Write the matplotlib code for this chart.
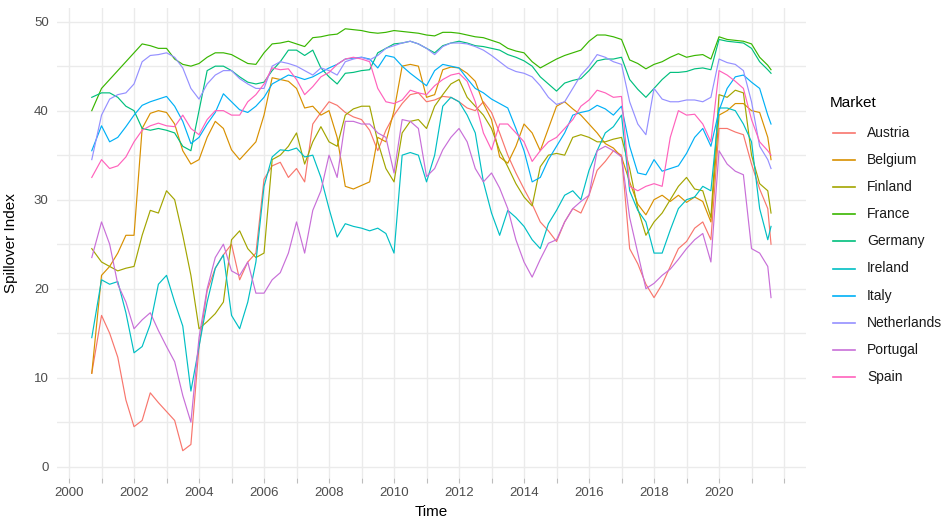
import numpy as np
import matplotlib
matplotlib.use('Agg')
import matplotlib.pyplot as plt
from matplotlib.lines import Line2D

plt.rcParams['font.family'] = ['Liberation Sans', 'DejaVu Sans']

# Time axis: start of sample, quarterly points, end of sample
time = [2000.7] + list(np.arange(2001.0, 2021.51, 0.25)) + [2021.6]

markets = ['Austria', 'Belgium', 'Finland', 'France', 'Germany',
           'Ireland', 'Italy', 'Netherlands', 'Portugal', 'Spain']
colors = ['#F8766D', '#D89000', '#A3A500', '#39B600', '#00BF7D',
          '#00BFC4', '#00B0F6', '#9590FF', '#C86FD8', '#FF62BC']

# values (one row per year: Q1..Q4)
austria = [10.5,
           17, 15, 12.3, 7.5,
           4.5, 5.2, 8.3, 7.2,
           6.2, 5.2, 1.8, 2.5,
           13.5, 19.8, 22.3, 23.8,
           25, 21, 23, 24,
           32.3, 33.8, 34.2, 32.5,
           33.5, 32, 38.5, 39.8,
           41, 40.6, 39.8, 39.3,
           39, 37.8, 35.5, 37.8,
           39.5, 40.8, 41.8, 42,
           41, 41.2, 41.6, 41.5,
           41, 40.3, 40, 41,
           39.8, 37.5, 35, 33,
           31.2, 29.5, 27.5, 26.5,
           25.3, 27.5, 29, 28.5,
           30.5, 33.3, 34.3, 35.5,
           35, 24.5, 22.8, 20.5,
           19, 20.5, 22.5, 24.5,
           25.3, 26.8, 27.5, 25.5,
           38, 38, 37.6, 37.3,
           34, 31.2, 29,
           25]
belgium = [10.5,
           21.5, 22.5, 24, 26,
           26, 38, 39.7, 40,
           39.8, 38.5, 35.5, 34,
           34.5, 37, 38.8, 38,
           35.6, 34.5, 35.5, 36.5,
           39.5, 43.7, 43.5, 43.3,
           42.5, 40.3, 40.5, 39.5,
           40, 37, 31.5, 31.2,
           31.6, 32, 37, 36.5,
           40, 45, 45.2, 45,
           41.5, 41.8, 44.6, 44.9,
           44.8, 44.2, 43.3, 40.8,
           39, 34.8, 34.1, 36,
           38.5, 37.5, 35.5, 38,
           40.5, 41, 40.2, 39.5,
           38.5, 37.5, 36.3, 35.8,
           34.8, 32, 29.5, 28.3,
           30, 30.5, 29.8, 30.5,
           29.7, 30.3, 29.8, 27.5,
           39.5, 40, 40.8, 40.8,
           40, 39.8, 37,
           34.5]
finland = [24.5,
           23, 22.5, 22, 22.3,
           22.5, 26, 28.8, 28.5,
           31, 30, 26, 21.5,
           15.5, 16.3, 17.2, 18.5,
           25.5, 26.5, 24.5, 23.5,
           24, 34.5, 35, 36,
           37.5, 34, 36.5, 38.2,
           36.5, 36, 39.5, 40.2,
           40.5, 40.5, 36.5, 33.5,
           32, 37.5, 38.8, 39,
           38, 40.5, 41.8, 43,
           43.5, 41.5, 40.5, 39.5,
           38, 35.5, 33.7, 31.8,
           30.3, 29.3, 33.7, 35,
           35.2, 35, 37, 37.3,
           37, 36.5, 36.5, 36.8,
           37, 33.5, 29, 26,
           27.5, 28.5, 30, 31.5,
           32.5, 31.2, 31, 28,
           41.8, 41.5, 42.3, 42,
           35, 31.8, 31,
           28.5]
france = [40,
          42.5, 43.5, 44.5, 45.5,
          46.5, 47.5, 47.3, 47,
          47, 45.8, 45.2, 45,
          45.3, 46, 46.5, 46.5,
          46.3, 45.8, 45.3, 45.2,
          46.5, 47.5, 47.6, 47.8,
          47.5, 47.2, 48.2, 48.3,
          48.5, 48.6, 49.2, 49.1,
          49, 48.8, 48.7, 48.8,
          49, 48.9, 48.8, 48.7,
          48.5, 48.4, 48.8, 48.8,
          48.7, 48.5, 48.3, 48.2,
          47.9, 47.6, 47, 46.7,
          46.5, 45.5, 44.8, 45.3,
          45.8, 46.2, 46.5, 46.8,
          47.8, 48.5, 48.5, 48.3,
          48, 45.7, 45.3, 44.7,
          45.2, 45.5, 46, 46.4,
          46, 46.2, 46.3, 45.8,
          48.3, 48, 47.9, 47.8,
          47.5, 46, 45.1,
          44.6]
germany = [41.5,
           42, 42, 41.5, 40.5,
           40, 38, 37.8, 38,
           37.8, 37.5, 36, 35.5,
           40, 44.5, 45, 45,
           44.5, 43.8, 43.2, 43,
           43.2, 44.5, 45.5, 46.8,
           46.8, 46.2, 46.8, 44.8,
           43.8, 43, 44.2, 44.3,
           44.5, 44.6, 46.5, 47,
           47.5, 47.6, 47.8, 47.5,
           47, 46.5, 47.3, 47.6,
           47.8, 47.6, 47.3, 47.2,
           47, 46.8, 46.3, 46,
           45.6, 45, 43.8, 43,
           42.2, 43.1, 43.4, 43.6,
           44.5, 45.6, 45.8, 45.8,
           46, 43.5, 42.4, 41.5,
           42.5, 43.5, 44.3, 44.3,
           44.4, 44.7, 44.8, 44.6,
           48, 47.8, 47.7, 47.6,
           47, 45.5, 44.6,
           44.2]
ireland = [14.5,
           21, 20.5, 20.8, 17.3,
           12.8, 13.5, 16, 20.5,
           21.5, 18.5, 15.8, 8.5,
           13.5, 18.5, 22.3, 23.8,
           17, 15.5, 18.5, 23,
           31.5, 34.8, 35.6, 35.5,
           35.8, 34.8, 35, 32.5,
           29, 25.8, 27.3, 27,
           26.8, 26.5, 26.8, 26.2,
           24, 35, 35.3, 35,
           32, 35, 40.5, 41.5,
           41, 39.5, 37.5, 32,
           28.5, 26, 28.8, 28,
           27, 25.5, 24.5, 27.3,
           28.8, 30.5, 31, 30,
           33.3, 35.5, 37.5, 38.2,
           39.5, 31, 28.8, 27.5,
           24, 24, 26.6, 29,
           30, 30.3, 31.5, 31,
           40.3, 40.3, 40, 38.5,
           36.5, 29, 25.5,
           27]
italy = [35.5,
         38.3, 36.5, 37, 38.2,
         39.5, 40.6, 41, 41.3,
         41.6, 40.5, 38.8, 36.3,
         37, 38.5, 39.8, 41.9,
         41, 40.1, 39.8, 40.5,
         41.5, 43, 43.5, 44,
         43.8, 43.5, 43.8, 44.3,
         44.8, 45.2, 45.8, 45.9,
         46, 45.8, 44.8, 46.2,
         46, 45, 44.2, 43.5,
         42.8, 44.5, 45.2, 45,
         44.8, 43.6, 42.5, 42,
         41.3, 40.8, 40.3, 38,
         35.5, 32, 32.5, 34.5,
         36, 37.5, 39.5, 39.8,
         40, 40.6, 40.2, 39.5,
         40.5, 36, 33, 32.8,
         34.5, 33.2, 33.5, 33.8,
         35.2, 37, 38, 36,
         40, 42.5, 43.8, 44,
         43.2, 42.5, 39.5,
         38.5]
netherlands = [34.5,
               39.5, 41.3, 41.8, 42,
               43, 45.5, 46.2, 46.3,
               46.5, 46, 44.8, 42.5,
               41.3, 43, 44, 44.5,
               44.5, 43.6, 43, 42.5,
               42.5, 45, 45.5, 45.3,
               45, 44.5, 44, 44.8,
               44.5, 44, 45.5, 45.8,
               46, 45.7, 46.2, 47,
               47.3, 47.6, 47.8, 47.5,
               47, 46.3, 47.2, 47.6,
               47.6, 47.5, 47.2, 46.8,
               46.2, 45.5, 44.8, 44.4,
               44.2, 43.8, 42.8, 41.5,
               40.7, 41, 42.5, 44,
               45, 46.3, 46, 45.5,
               45.2, 41, 38.5, 37.3,
               42.5, 41.3, 41, 41,
               41.2, 41.2, 41, 41.5,
               45.8, 45.4, 45.2, 44.5,
               41, 36, 34.5,
               33.5]
portugal = [23.5,
            27.5, 25, 20.5, 18.5,
            15.5, 16.5, 17.3, 15.3,
            13.5, 11.8, 8, 5,
            14.5, 20, 23.5, 25,
            22, 21.5, 23, 19.5,
            19.5, 21, 21.8, 24,
            27.5, 24, 28.8, 31,
            35, 32.5, 38.8, 38.8,
            38.5, 38.5, 37.5, 37,
            33, 39, 38.8, 38,
            32.6, 33.5, 35.6, 37,
            38, 36.5, 33.5, 32,
            33, 31.3, 29, 25.5,
            23, 21.3, 23.3, 25.1,
            25.5, 27.5, 29, 29.8,
            30.5, 35.5, 36, 35.5,
            34.8, 28, 24, 20,
            20.6, 21.5, 22.2, 23.3,
            24.5, 25.5, 26.2, 23,
            35.5, 34, 33.2, 32.8,
            24.5, 24, 22.5,
            19]
spain = [32.5,
         34.5, 33.5, 33.8, 34.8,
         36.5, 37.8, 38.3, 38.6,
         38.3, 38.2, 39.5, 38,
         37.3, 39, 40, 40,
         39.5, 39.5, 41, 41.8,
         43, 44.8, 44.6, 44.7,
         43.5, 41.8, 42.7, 43.8,
         44.3, 45.2, 45.8, 46,
         45.8, 45.5, 42.5, 41,
         40.8, 41.2, 42.3, 42,
         41.8, 42.8, 43.5, 44,
         44.2, 43.3, 41, 37.5,
         35.6, 38.5, 38.5, 37.5,
         36.5, 34.3, 35.5, 36.5,
         37, 38, 39, 40.5,
         41.2, 42.3, 42, 41.5,
         41.6, 31.5, 31, 31.5,
         31.8, 31.5, 37, 40,
         39.5, 39.6, 38.5, 36.5,
         44.5, 44, 43.3, 42.5,
         39, 36.5, 35.5,
         35]

series = [austria, belgium, finland, france, germany,
          ireland, italy, netherlands, portugal, spain]

W, H = 951, 522
fig = plt.figure(figsize=(W / 100, H / 100), dpi=100)
ax = fig.add_axes([57 / W, 1 - 478.3 / H, 748.8 / W, 470 / H])

for vals, col in zip(series, colors):
    ax.plot(time, vals, color=col, lw=0.85)

ax.set_xlim(1999.63, 2022.67)
ax.set_ylim(-1.3, 51.5)

years = list(range(2000, 2023))
ax.set_xticks(years)
ax.set_xticklabels([str(y) if y % 2 == 0 and y <= 2020 else '' for y in years])
ax.set_yticks([0, 10, 20, 30, 40, 50])
ax.set_yticks([5, 15, 25, 35, 45], minor=True)

ax.grid(which='both', color='#EBEBEB', lw=1.0)
ax.set_axisbelow(True)
for s in ax.spines.values():
    s.set_visible(False)
ax.tick_params(axis='x', length=3.5, width=0.8, color='#BDBDBD',
               labelsize=9.5, labelcolor='#4D4D4D', pad=3)
ax.tick_params(axis='y', which='both', length=0, labelsize=9.5,
               labelcolor='#4D4D4D', pad=6)

ax.set_xlabel('Time', fontsize=11)
ax.set_ylabel('Spillover Index', fontsize=11)
ax.xaxis.set_label_coords(0.5, -0.056)
ax.yaxis.set_label_coords(-0.052, 0.5)

# legend drawn by hand so the spacing matches
fig.text(830 / W, 1 - 103 / H, 'Market', fontsize=11, va='center', ha='left')
for i, (name, col) in enumerate(zip(markets, colors)):
    y = 1 - (133 + 27.1 * i) / H
    fig.add_artist(Line2D([833 / W, 855 / W], [y, y], color=col, lw=1.2))
    fig.text(867 / W, y, name, fontsize=10, va='center', ha='left', color='#1A1A1A')

fig.savefig('out.png', dpi=100)
